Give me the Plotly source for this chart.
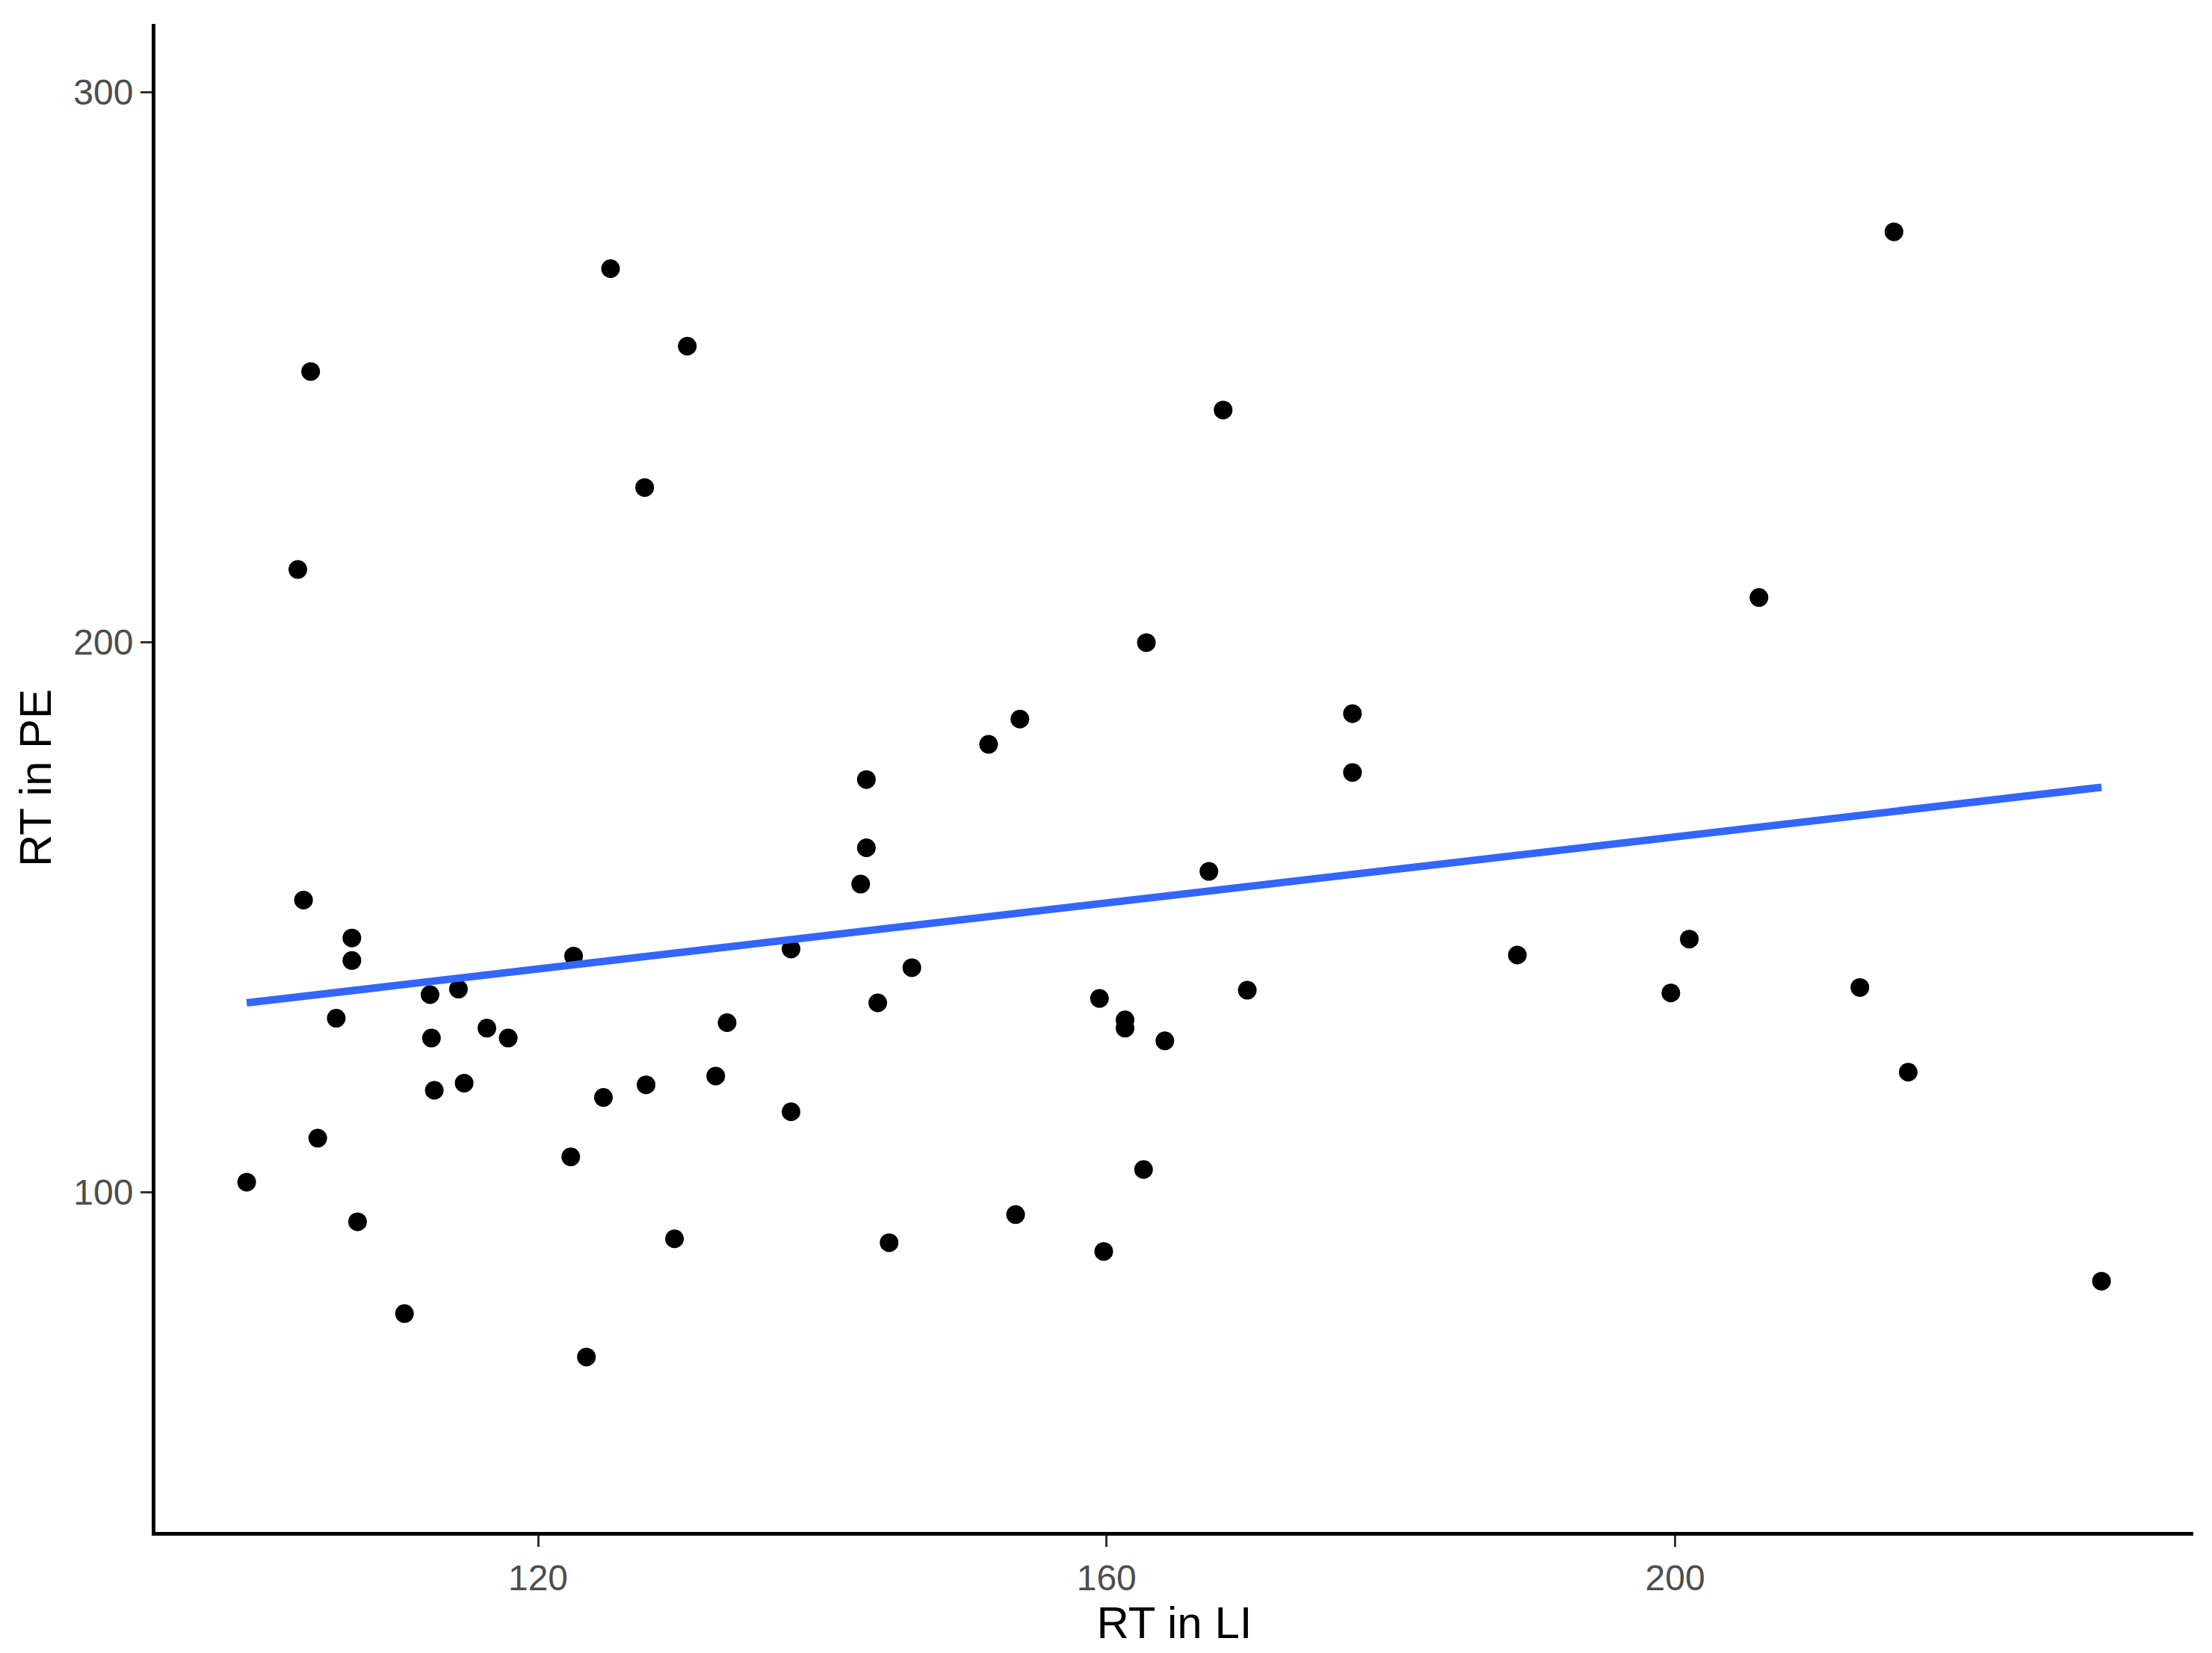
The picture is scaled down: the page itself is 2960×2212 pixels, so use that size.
import plotly.graph_objects as go

rt_li = [99.5, 103.1, 104.0, 103.5, 104.5, 105.8, 106.9, 106.9, 107.3, 110.6,
         112.4, 112.5, 112.7, 114.4, 114.8, 116.4, 117.9, 122.3, 122.5, 123.4,
         124.6, 125.1, 127.5, 127.6, 129.6, 130.5, 132.5, 133.3, 137.8, 137.8,
         142.7, 143.1, 143.1, 143.9, 144.7, 146.3, 151.7, 153.6, 153.9, 159.5,
         159.8, 161.3, 161.3, 162.6, 162.8, 164.1, 167.2, 168.2, 169.9, 177.3,
         177.3, 188.9, 199.7, 201.0, 205.9, 213.0, 215.4, 216.4, 230.0]
rt_pe = [101.8, 213.2, 249.2, 153.1, 109.8, 131.6, 146.2, 142.1, 94.6, 77.9,
         135.9, 128.0, 118.5, 136.9, 119.8, 129.8, 128.0, 106.4, 142.9, 70.0,
         117.2, 267.9, 228.1, 119.5, 91.5, 253.8, 121.1, 130.8, 144.2, 114.6,
         156.0, 175.0, 162.6, 134.4, 90.8, 140.8, 181.4, 95.9, 186.0, 135.2,
         89.2, 131.3, 129.8, 104.1, 199.9, 127.5, 158.3, 242.2, 136.7, 187.0,
         176.3, 143.1, 136.2, 146.0, 208.1, 137.2, 274.6, 121.8, 83.8]

# fitted trend line as drawn in the reference (endpoints)
fit_x = [99.5, 230.0]
fit_y = [134.4, 173.6]

x_ticks = [120, 160, 200]
y_ticks = [100, 200, 300]

FONT = "Liberation Sans, Arial, sans-serif"

fig = go.Figure()
fig.add_trace(go.Scatter(x=rt_li, y=rt_pe, mode="markers",
                         marker=dict(color="black", size=25, line=dict(width=0)),
                         showlegend=False))
fig.add_trace(go.Scatter(x=fit_x, y=fit_y, mode="lines",
                         line=dict(color="#3366FF", width=10),
                         showlegend=False))

axis_common = dict(showgrid=False, zeroline=False, showline=True,
                   linecolor="black", linewidth=5, ticks="outside",
                   ticklen=15, tickwidth=3, tickcolor="#333333",
                   tickfont=dict(family=FONT, size=48, color="#4D4D4D"),
                   mirror=False)

fig.update_layout(
    width=2960, height=2212,
    margin=dict(l=208, r=25, t=32, b=162),
    plot_bgcolor="white", paper_bgcolor="white",
    xaxis=dict(range=[93.08, 236.46], tickvals=x_ticks,
               title=dict(text="RT in LI", font=dict(family=FONT, size=60, color="black"), standoff=2),
               **axis_common),
    yaxis=dict(range=[38.2, 312.4], tickvals=y_ticks,
               title=dict(text="RT in PE", font=dict(family=FONT, size=60, color="black"), standoff=12),
               **axis_common),
)

fig.write_html("out.html", config={"displayModeBar": False},
               post_script="document.body.style.margin='0';document.body.style.overflow='hidden';")
